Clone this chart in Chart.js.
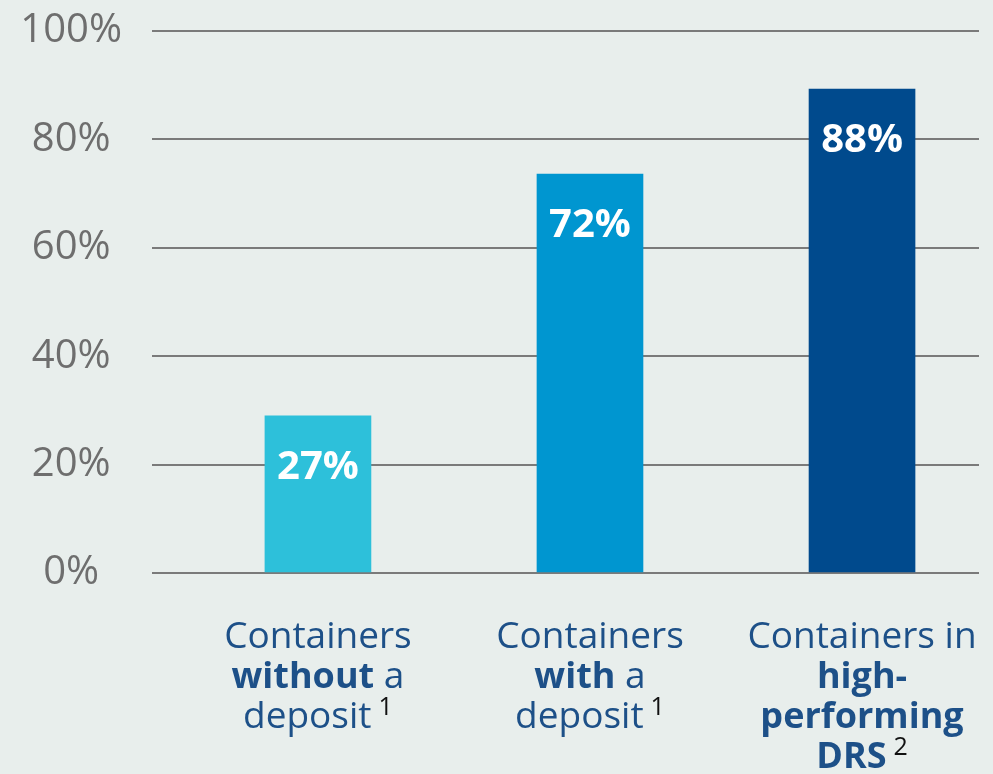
<!DOCTYPE html>
<html>
<head>
<meta charset="utf-8">
<script src="https://cdn.jsdelivr.net/npm/chart.js@4.4.1/dist/chart.umd.min.js"></script>
<style>
  html, body { margin: 0; padding: 0; background: #e8eeec; }
  #wrap { width: 993px; height: 774px; position: relative; }
</style>
</head>
<body>
<div id="wrap"><canvas id="barChart"></canvas></div>
<script>
// category lines: *bold*, ^superscript footnote
var categories = [
    ["Containers", "*without* a", "deposit^1"],
    ["Containers", "*with* a", "deposit^1"],
    ["Containers in", "*high-*", "*performing*", "*DRS*^2"]
];
var values = [29, 73.6, 89.3];          // bar heights as drawn
var valueLabels = ["27%", "72%", "88%"]; // printed labels
var yTicks = [0, 20, 40, 60, 80, 100];
var barColors = ["#2dc0da", "#0096d0", "#004a8d"];

var FONT = "'Open Sans', sans-serif";

function drawCategory(ctx, lines, cx, y0)
{
    lines.forEach(function(line, li)
    {
        var y = y0 + li * 40;
        var parts = line.split(/(\*[^*]+\*|\^\S+)/).filter(function(p) { return p !== ""; });
        var segs = parts.map(function(p)
        {
            if (p[0] === "*") return { text: p.slice(1, -1), font: "bold 36px " + FONT, color: "#1d5088", dy: 0, gap: 0 };
            if (p[0] === "^") return { text: p.slice(1), font: "25px " + FONT, color: "#111111", dy: -13, gap: 7 };
            return { text: p, font: "37px " + FONT, color: "#1d5088", dy: 0, gap: 0 };
        });
        var total = 0;
        segs.forEach(function(s)
        {
            ctx.font = s.font;
            s.w = ctx.measureText(s.text).width;
            total += s.w + s.gap;
        });
        var x = cx - total / 2;
        segs.forEach(function(s)
        {
            x += s.gap;
            ctx.font = s.font;
            ctx.fillStyle = s.color;
            ctx.fillText(s.text, x, y + s.dy);
            x += s.w;
        });
    });
}

var labelPlugin = {
    id: "labelPlugin",
    afterDatasetsDraw: function(chart)
    {
        var ctx = chart.ctx;
        var meta = chart.getDatasetMeta(0);
        ctx.save();
        ctx.textAlign = "center";
        ctx.textBaseline = "middle";
        ctx.font = "bold 40px " + FONT;
        ctx.fillStyle = "#ffffff";
        meta.data.forEach(function(bar, i)
        {
            ctx.fillText(valueLabels[i], bar.x, bar.y + 52);
        });
        ctx.restore();

        ctx.save();
        ctx.textAlign = "left";
        ctx.textBaseline = "alphabetic";
        var xScale = chart.scales.x;
        categories.forEach(function(lines, i)
        {
            drawCategory(ctx, lines, xScale.getPixelForValue(i), chart.chartArea.bottom + 75);
        });
        ctx.restore();
    }
};

new Chart("barChart", {
    type: "bar",
    data: {
        datasets: [{
            data: values.map(function(v, i) { return { x: i, y: v }; }),
            backgroundColor: barColors,
            barThickness: 106
        }]
    },
    options: {
        maintainAspectRatio: false,
        responsive: true,
        animation: false,
        layout: { padding: { top: 31, right: 14, bottom: 201, left: 0 } },
        plugins: {
            legend: { display: false },
            tooltip: { enabled: false }
        },
        scales: {
            x: {
                type: "linear",
                min: -0.61,
                max: 2.43,
                offset: false,
                display: false
            },
            y: {
                min: 0,
                max: 100,
                afterBuildTicks: function(scale)
                {
                    scale.ticks = yTicks.map(function(v) { return { value: v }; });
                },
                afterFit: function(scale)
                {
                    scale.width = 152;
                    scale.paddingTop = 0;
                    scale.paddingBottom = 0;
                },
                border: { display: false },
                grid: { color: "#7a7a7a", lineWidth: 2, drawTicks: false },
                ticks: {
                    padding: 30,
                    crossAlign: "center",
                    color: "#6e6e6e",
                    font: { family: FONT, size: 40 },
                    callback: function(v) { return v + "%"; }
                }
            }
        }
    },
    plugins: [labelPlugin]
});
</script>
</body>
</html>
